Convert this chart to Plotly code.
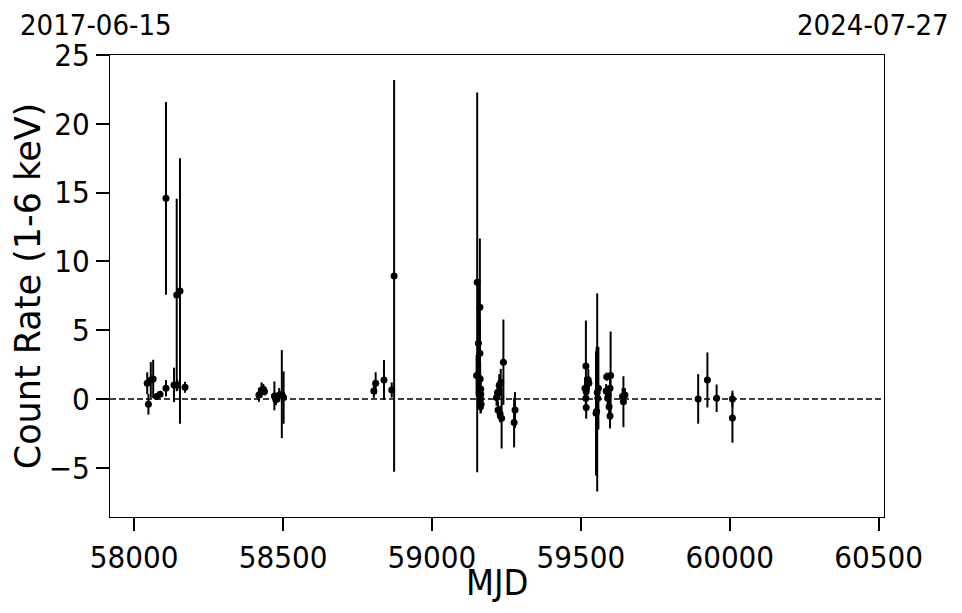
import plotly.graph_objects as go

# MJD of each observation
mjd = [
    58044, 58048, 58056, 58064, 58076, 58087, 58107, 58107, 58134, 58143, 58145, 58154, 58171,
    58419, 58428, 58434, 58438, 58471, 58476, 58487, 58496, 58502,
    58805, 58811, 58839, 58865, 58873,
    59150, 59152, 59156, 59161, 59161, 59162, 59164, 59164, 59163, 59165, 59163,
    59217, 59220, 59222, 59226, 59229, 59231, 59234, 59240, 59276, 59279,
    59514, 59517, 59517, 59518, 59525, 59527, 59518,
    59551, 59553, 59555, 59557, 59559,
    59585, 59587, 59590, 59592, 59595, 59598, 59598, 59600,
    59640, 59643, 59648,
    59894, 59925, 59956, 60009, 60009,
]
# count rate (1-6 keV)
rate = [
    1.14, -0.39, 1.38, 1.45, 0.17, 0.34, 14.58, 0.78, 1.02, 7.56, 1.02, 7.85, 0.85,
    0.29, 0.65, 0.70, 0.55, 0.22, -0.05, 0.29, 0.35, 0.10,
    0.58, 1.14, 1.38, 0.65, 8.94,
    1.70, 8.48, 4.05, 6.66, 3.32, 1.45, 0.73, 0.34, 0.00, -0.39, -0.56,
    0.10, 0.46, -0.80, 1.00, -1.10, 1.19, -1.40, 2.67, -1.72, -0.80,
    0.78, 2.40, 0.05, -0.63, 1.38, 1.14, 0.53,
    -1.04, -0.90, 0.47, 0.05, 0.78,
    0.58, 1.62, 0.05, 0.29, -0.56, 0.78, -1.24, 1.70,
    0.17, -0.20, 0.29,
    0.00, 1.38, 0.05, 0.00, -1.38,
]
# 1-sigma uncertainty
err = [
    0.80, 0.75, 1.30, 1.40, 0.20, 0.20, 7.00, 0.60, 1.25, 7.00, 0.40, 9.65, 0.40,
    0.50, 0.55, 0.40, 0.30, 1.05, 0.40, 0.50, 3.20, 1.90,
    0.50, 0.80, 1.45, 0.55, 14.24,
    1.50, 13.80, 4.50, 5.00, 2.50, 1.20, 1.00, 0.60, 0.80, 0.60, 0.50,
    0.60, 0.70, 0.60, 0.80, 0.60, 1.00, 2.20, 3.10, 1.80, 1.30,
    0.80, 3.30, 0.60, 0.80, 0.80, 0.50, 0.50,
    4.50, 4.70, 7.20, 1.50, 3.00,
    0.50, 0.30, 0.60, 0.60, 0.80, 0.90, 0.90, 3.20,
    0.60, 1.85, 0.50,
    1.80, 2.00, 1.00, 0.60, 1.80,
]

xticks = [58000, 58500, 59000, 59500, 60000, 60500]
yticks = [-5, 0, 5, 10, 15, 20, 25]
xrange_mjd = [57919, 60518]
date_labels = ["2017-06-15", "2024-07-27"]
x_title = "MJD"
y_title = "Count Rate (1-6 keV)"

FONT = "DejaVu Sans"
CFONT = "DejaVu Sans Condensed, DejaVu Sans"

fig = go.Figure()
fig.add_trace(go.Scatter(
    x=mjd, y=rate, mode="markers",
    marker=dict(color="black", size=7),
    error_y=dict(type="data", array=err, visible=True, color="black", thickness=2, width=0),
    showlegend=False,
))

fig.add_shape(type="line", xref="paper", x0=0, x1=1, yref="y", y0=0, y1=0,
              line=dict(color="black", width=1.5, dash="6px,3px"), layer="above")

fig.add_annotation(text=date_labels[0], xref="paper", yref="paper", x=-0.119, y=1.065,
                   xanchor="left", yanchor="middle", showarrow=False,
                   font=dict(family=CFONT, size=29, color="black"))
fig.add_annotation(text=date_labels[1], xref="paper", yref="paper", x=1.087, y=1.065,
                   xanchor="right", yanchor="middle", showarrow=False,
                   font=dict(family=CFONT, size=29, color="black"))
fig.add_annotation(text=x_title, xref="paper", yref="paper", x=0.5, y=-0.142,
                   xanchor="center", yanchor="middle", showarrow=False,
                   font=dict(family=CFONT, size=36, color="black"))

fig.update_layout(
    width=962, height=613,
    margin=dict(l=102, r=86, t=47, b=104),
    paper_bgcolor="white", plot_bgcolor="white",
    font=dict(family=FONT, color="black"),
)
fig.update_xaxes(
    range=xrange_mjd, tickvals=xticks, tickformat="d",
    showgrid=False, zeroline=False,
    showline=True, linecolor="black", linewidth=1, mirror=True,
    ticks="outside", ticklen=13, tickwidth=2, tickcolor="black",
    tickfont=dict(family=CFONT, size=31),
)
fig.update_yaxes(
    range=[-8.58, 25], tickvals=yticks,
    showgrid=False, zeroline=False,
    showline=True, linecolor="black", linewidth=1, mirror=True,
    ticks="outside", ticklen=13, tickwidth=2, tickcolor="black",
    tickfont=dict(family=CFONT, size=31),
    title=dict(text=y_title, font=dict(family=FONT, size=35), standoff=2),
)

fig.write_html("out.html")
